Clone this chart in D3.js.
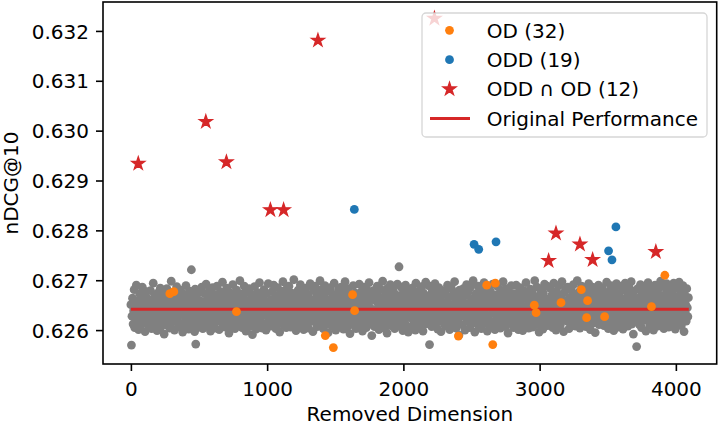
<!DOCTYPE html>
<html><head><meta charset="utf-8">
<script src="https://cdn.jsdelivr.net/npm/d3@7"></script>
<style>body{margin:0;background:#fff} text{font-family:"DejaVu Sans",sans-serif;fill:#000}</style>
</head><body><svg id="c" width="719" height="424"></svg>
<script>
// ---- data ----
// gray cloud: every removed dimension (sampled every 4th), nDCG@10 in units of 1e-5
const grayDims = d3.range(0, 4096, 4);
const grayScore1e5 = [
62651,62570,62628,62664,62612,62639,62681,62605,62647,62622,62690,62633,62618,62659,62601,62644,62673,62627,62609,62655,62636,62686,62614,62648,62624,62666,62597,62641,62677,62619,62653,62630,
62662,62608,62645,62625,62679,62637,62603,62656,62616,62694,62642,62621,62668,62611,62650,62632,62599,62674,62640,62617,62661,62627,62684,62606,62646,62635,62670,62613,62657,62592,62638,62665,
62620,62649,62683,62610,62643,62629,62671,62604,62654,62637,62698,62615,62660,62623,62646,62676,62600,62634,62658,62618,62687,62641,62626,62667,62607,62652,62631,62680,62612,62644,62663,62596,
62639,62672,62616,62655,62628,62689,62609,62648,62633,62666,62602,62643,62678,62621,62657,62721,62635,62611,62669,62626,62651,62597,62682,62572,62640,62617,62662,62631,62675,62606,62647,62624,
62658,62613,62686,62636,62603,62650,62625,62673,62619,62644,62692,62608,62661,62630,62654,62615,62679,62639,62598,62667,62622,62648,62685,62610,62656,62634,62604,62670,62627,62645,62688,62618,
62632,62665,62601,62649,62677,62620,62659,62638,62696,62612,62646,62623,62671,62606,62653,62629,62684,62641,62616,62663,62594,62650,62635,62674,62609,62657,62626,62691,62614,62642,62668,62603,
62655,62621,62680,62637,62610,62664,62628,62647,62699,62617,62652,62633,62605,62672,62640,62619,62688,62627,62660,62598,62645,62676,62613,62656,62631,62683,62607,62649,62624,62666,62636,62591,
62670,62615,62643,62687,62622,62654,62602,62639,62675,62611,62662,62630,62695,62618,62648,62626,62667,62604,62651,62635,62681,62612,62658,62641,62600,62673,62629,62646,62693,62620,62655,62637,
62608,62661,62634,62677,62616,62649,62690,62623,62657,62638,62603,62669,62627,62685,62613,62644,62664,62596,62652,62631,62678,62619,62640,62697,62610,62659,62625,62672,62642,62605,62683,62633,
62650,62618,62688,62628,62663,62606,62645,62674,62621,62656,62639,62701,62614,62660,62632,62599,62668,62643,62611,62680,62624,62653,62636,62691,62609,62647,62666,62622,62676,62601,62641,62658,
62627,62684,62612,62652,62637,62671,62604,62648,62625,62693,62618,62661,62634,62655,62597,62679,62630,62646,62688,62615,62665,62640,62607,62673,62622,62657,62635,62699,62610,62650,62628,62682,
62644,62603,62667,62621,62689,62638,62656,62612,62678,62630,62595,62661,62647,62619,62685,62626,62653,62608,62672,62641,62633,62694,62616,62659,62600,62669,62636,62651,62623,62681,62609,62645,
62664,62629,62686,62613,62649,62676,62602,62642,62620,62697,62655,62631,62668,62606,62638,62683,62617,62652,62593,62670,62627,62660,62644,62611,62689,62635,62657,62619,62674,62603,62648,62666,
62618,62654,62632,62692,62610,62663,62640,62677,62625,62598,62650,62686,62614,62643,62669,62628,62605,62681,62637,62658,62621,62695,62646,62612,62672,62634,62589,62661,62624,62679,62641,62607,
62673,62636,62615,62657,62688,62623,62645,62601,62666,62630,62682,62611,62651,62639,62698,62619,62662,62604,62647,62675,62626,62655,62594,62684,62633,62668,62616,62642,62691,62609,62659,62629,
62646,62680,62620,62661,62603,62637,62671,62613,62654,62692,62627,62648,62727,62608,62665,62631,62686,62617,62643,62599,62676,62639,62656,62622,62690,62610,62652,62634,62669,62596,62644,62681,
62625,62663,62641,62606,62684,62631,62657,62617,62672,62649,62600,62694,62636,62614,62667,62645,62623,62679,62609,62653,62638,62687,62619,62660,62598,62674,62632,62650,62612,62696,62642,62628,
62659,62616,62689,62640,62571,62670,62626,62652,62607,62681,62635,62664,62620,62647,62693,62611,62656,62629,62675,62602,62643,62685,62618,62661,62637,62597,62668,62630,62654,62679,62614,62648,
62634,62677,62608,62655,62623,62690,62642,62615,62666,62601,62650,62629,62684,62639,62610,62671,62646,62621,62697,62632,62658,62604,62675,62641,62617,62662,62590,62680,62627,62652,62636,62669,
62611,62657,62683,62628,62645,62600,62669,62637,62691,62618,62653,62676,62622,62640,62605,62686,62633,62661,62613,62648,62699,62625,62664,62596,62642,62673,62619,62656,62631,62688,62609,62650,
62668,62624,62647,62603,62679,62636,62658,62614,62695,62641,62620,62672,62630,62654,62598,62684,62627,62662,62608,62645,62677,62617,62651,62634,62692,62612,62660,62639,62601,62670,62644,62623,
62655,62687,62610,62643,62629,62665,62604,62680,62638,62616,62659,62697,62626,62649,62671,62607,62635,62683,62621,62657,62594,62644,62676,62614,62662,62632,62689,62619,62652,62640,62605,62673,
62630,62661,62617,62690,62646,62622,62674,62601,62656,62637,62685,62612,62650,62627,62667,62599,62642,62679,62620,62663,62633,62695,62609,62648,62625,62670,62604,62658,62639,62682,62615,62653,
62676,62606,62641,62664,62623,62699,62633,62654,62611,62686,62645,62619,62668,62596,62650,62631,62681,62614,62659,62640,62602,62673,62628,62692,62644,62617,62662,62636,62688,62609,62651,62626,
62643,62684,62613,62657,62630,62671,62605,62648,62694,62621,62662,62637,62600,62678,62626,62655,62616,62689,62641,62669,62610,62652,62634,62697,62619,62660,62597,62675,62632,62646,62683,62624,
62658,62618,62686,62639,62603,62665,62627,62649,62680,62612,62656,62635,62691,62622,62644,62672,62608,62661,62631,62699,62615,62653,62640,62677,62604,62667,62625,62688,62646,62613,62659,62636,
62671,62629,62654,62607,62682,62642,62619,62663,62693,62633,62650,62601,62676,62624,62647,62686,62614,62658,62637,62669,62595,62645,62680,62620,62656,62632,62690,62611,62664,62641,62679,62617,
62648,62685,62626,62660,62609,62674,62638,62652,62616,62696,62631,62666,62603,62644,62678,62621,62657,62689,62634,62612,62670,62647,62599,62683,62628,62661,62640,62693,62618,62655,62606,62673,
62635,62667,62614,62688,62643,62622,62659,62602,62681,62638,62651,62694,62618,62664,62630,62675,62608,62649,62686,62625,62657,62641,62697,62612,62669,62633,62592,62678,62646,62620,62662,62636,
62567,62652,62683,62627,62665,62611,62644,62691,62637,62605,62673,62656,62619,62687,62640,62629,62662,62598,62677,62648,62623,62695,62634,62658,62610,62670,62645,62684,62615,62653,62632,62600,
62664,62626,62690,62641,62617,62676,62650,62608,62682,62635,62659,62621,62698,62644,62613,62668,62631,62687,62603,62655,62639,62672,62616,62693,62647,62628,62680,62606,62662,62637,62685,62619,
62653,62611,62674,62639,62694,62625,62661,62602,62648,62685,62630,62667,62614,62656,62696,62633,62643,62678,62609,62660,62622,62689,62641,62597,62671,62636,62651,62618,62683,62645,62627,62665
];
// OD only (orange)
const odDims   = [286, 315, 775, 1427, 1486, 1627, 1642, 2404, 2612, 2656, 2675, 2961, 2974, 3157, 3306, 3345, 3352, 3477, 3821, 3919];
const odScores = [0.62673, 0.62677, 0.62637, 0.62589, 0.62565, 0.62671, 0.62639, 0.62588, 0.62690, 0.62571, 0.62694, 0.62650, 0.62635, 0.62655, 0.62681, 0.62625, 0.62659, 0.62627, 0.62647, 0.62710];
// ODD only (blue)
const oddDims   = [1640, 2519, 2553, 2680, 3506, 3531, 3560];
const oddScores = [0.62842, 0.62772, 0.62762, 0.62777, 0.62759, 0.62741, 0.62807];
// ODD ∩ OD (red stars)
const bothDims   = [54, 550, 701, 1024, 1121, 1373, 2228, 3066, 3120, 3296, 3389, 3853];
const bothScores = [0.62934, 0.63018, 0.62937, 0.62841, 0.62841, 0.63181, 0.63225, 0.62739, 0.62794, 0.62772, 0.62741, 0.62757];
// original performance line
const origScore = 0.62642;
const origSpan = [0, 4095];

const xTicks = [0, 1000, 2000, 3000, 4000];
const yTicks = [0.626, 0.627, 0.628, 0.629, 0.630, 0.631, 0.632];
const legendLabels = ["OD (32)", "ODD (19)", "ODD \u2229 OD (12)", "Original Performance"];
const xLabel = "Removed Dimension";
const yLabel = "nDCG@10";

// ---- drawing ----
(function () {
const C = {gray: "#808080", od: "#ff7f0e", odd: "#1f77b4", both: "#d62728", line: "#d62728"};
const FS = 20, LW = 1.6, TL = 7, PAD = 7;
const mL = 103, mR = 716.7, mT = 2, mB = 364;
const svg = d3.select("#c");

const gray = grayDims.map((d, i) => ({x: d, y: grayScore1e5[i] / 1e5})).filter(d => !isNaN(d.y));
const od = odDims.map((d, i) => ({x: d, y: odScores[i]}));
const odd = oddDims.map((d, i) => ({x: d, y: oddScores[i]}));
const both = bothDims.map((d, i) => ({x: d, y: bothScores[i]}));

const allX = gray.map(d => d.x).concat(od.map(d => d.x), odd.map(d => d.x), both.map(d => d.x), origSpan);
const allY = gray.map(d => d.y).concat(od.map(d => d.y), odd.map(d => d.y), both.map(d => d.y), [origScore]);
const pad5 = ([a, b]) => [a - (b - a) * 0.05, b + (b - a) * 0.05];
const x = d3.scaleLinear().domain(pad5(d3.extent(allX))).range([mL, mR]);
const y = d3.scaleLinear().domain(pad5(d3.extent(allY))).range([mB, mT]);

const plot = svg.append("g");
const R = 4.4;
plot.selectAll(".g").data(gray).join("circle")
  .attr("cx", d => x(d.x)).attr("cy", d => y(d.y)).attr("r", R).attr("fill", C.gray);
plot.append("line")
  .attr("x1", x(origSpan[0])).attr("x2", x(origSpan[1]))
  .attr("y1", y(origScore)).attr("y2", y(origScore))
  .attr("stroke", C.line).attr("stroke-width", 3);
plot.selectAll(".o").data(od).join("circle")
  .attr("cx", d => x(d.x)).attr("cy", d => y(d.y)).attr("r", R).attr("fill", C.od);
plot.selectAll(".b").data(odd).join("circle")
  .attr("cx", d => x(d.x)).attr("cy", d => y(d.y)).attr("r", R).attr("fill", C.odd);
const star = d3.symbol().type(d3.symbolStar).size(52);
plot.selectAll(".s").data(both).join("path")
  .attr("d", star).attr("transform", d => `translate(${x(d.x)},${y(d.y)})`)
  .attr("fill", C.both).attr("stroke", C.both).attr("stroke-width", 1.3).attr("stroke-linejoin", "miter");

// axes
const xAxis = svg.append("g").attr("transform", `translate(0,${mB})`)
  .call(d3.axisBottom(x).tickValues(xTicks).tickFormat(d3.format("d")).tickSize(TL).tickPadding(PAD));
const yAxis = svg.append("g").attr("transform", `translate(${mL},0)`)
  .call(d3.axisLeft(y).tickValues(yTicks).tickFormat(d3.format(".3f")).tickSize(TL).tickPadding(PAD));
[xAxis, yAxis].forEach(a => {
  a.select(".domain").remove();
  a.selectAll(".tick line").attr("stroke", "#000").attr("stroke-width", LW);
  a.selectAll(".tick text").attr("font-size", FS).attr("font-family", "DejaVu Sans").attr("fill", "#000");
});
xAxis.selectAll(".tick text").attr("y", 31.5).attr("dy", 0);
yAxis.selectAll(".tick text").attr("dy", "0.36em");

// frame
svg.append("rect").attr("x", mL).attr("y", mT).attr("width", mR - mL).attr("height", mB - mT)
  .attr("fill", "none").attr("stroke", "#000").attr("stroke-width", LW);

// labels
svg.append("text").attr("x", (mL + mR) / 2).attr("y", 420.5).attr("text-anchor", "middle")
  .attr("font-size", FS).text(xLabel);
svg.append("text").attr("transform", `translate(17.5,${(mT + mB) / 2}) rotate(-90)`)
  .attr("text-anchor", "middle").attr("font-size", FS).text(yLabel);

// legend
const lg = svg.append("g");
lg.append("rect").attr("x", 422).attr("y", 13).attr("width", 285).attr("height", 124).attr("rx", 4)
  .attr("fill", "#fff").attr("fill-opacity", 0.8).attr("stroke", "#cccccc").attr("stroke-opacity", 0.8).attr("stroke-width", 1.3);
const rowY = i => 30.3 + i * 29.4;
const mx = 449.5, tx = 486.7;
lg.append("circle").attr("cx", mx).attr("cy", rowY(0)).attr("r", R).attr("fill", C.od);
lg.append("circle").attr("cx", mx).attr("cy", rowY(1)).attr("r", R).attr("fill", C.odd);
lg.append("path").attr("d", star).attr("transform", `translate(${mx},${rowY(2)})`)
  .attr("fill", C.both).attr("stroke", C.both).attr("stroke-width", 1.3);
lg.append("line").attr("x1", 430).attr("x2", 470).attr("y1", rowY(3)).attr("y2", rowY(3))
  .attr("stroke", C.line).attr("stroke-width", 3);
lg.selectAll(".lt").data(legendLabels).join("text")
  .attr("x", tx).attr("y", (d, i) => rowY(i)).attr("dy", "0.36em").attr("font-size", FS).text(d => d);
})();
</script></body></html>
